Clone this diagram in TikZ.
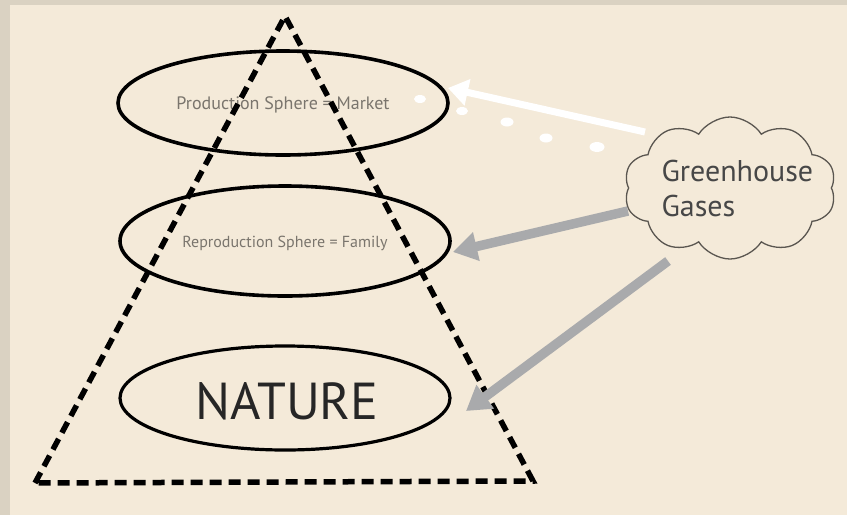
\documentclass[tikz,border=0pt]{standalone}
\usepackage{fontspec}
\setmainfont{PT Sans}
\usetikzlibrary{shapes.geometric,shapes.symbols,arrows.meta}
\definecolor{bgc}{HTML}{F4EAD9}
\definecolor{framec}{HTML}{DAD2C2}
\definecolor{arrowgray}{HTML}{A9AAAC}
\definecolor{txtgray}{HTML}{7A756D}
\definecolor{cloudline}{HTML}{5A5650}
\tikzset{
  sphere/.style={draw=black, line width=3.6pt, ellipse, inner sep=0pt},
  smalltxt/.style={text=txtgray, font=\fontsize{18}{20}\selectfont},
  pyramid/.style={draw=black, line width=5.5pt, dash pattern=on 12pt off 7pt},
  greyarrow/.style={draw=arrowgray, line width=9.5pt, -{Triangle[length=24pt,width=28pt]}},
  whitearrow/.style={draw=white, line width=7pt, -{Triangle[length=20pt,width=26pt]}},
  puff/.style={fill=white, ellipse, inner sep=0pt},
}
\begin{document}
\begin{tikzpicture}[x=1pt,y=-1pt]
\fill[framec] (0,0) rectangle (847,515);
\fill[bgc] (10,5) rectangle (847,515);
\useasboundingbox (0,0) rectangle (847,515);

% spheres
\node[sphere, minimum width=330pt, minimum height=104pt] (prod) at (283,103) {};
\node[smalltxt] (prodtxt) at (283,105) {Production Sphere = Market};
\node[sphere, minimum width=330pt, minimum height=110pt] (repro) at (285,241) {};
\node[smalltxt, font=\fontsize{16}{18}\selectfont] (reprotxt) at (285,243) {Reproduction Sphere = Family};
\node[sphere, line width=3.2pt, minimum width=330pt, minimum height=104pt] (nature) at (285,398) {};
\node[font=\fontsize{52}{56}\selectfont, text=black!85] (naturetxt) at (287,401) {NATURE};

% pyramid
\coordinate (apex) at (285,16);
\coordinate (bl) at (35,483);
\coordinate (br) at (533,481);
\draw[pyramid, line join=miter] (bl) -- (apex) -- (br) -- cycle;

% cloud
\node[cloud, draw=cloudline, line width=1.3pt, cloud puffs=10, cloud puff arc=115, aspect=1.5,
      minimum width=212pt, minimum height=142pt, inner sep=0pt] (cloud) at (730,188) {};
\node[align=left, text=black!72, font=\fontsize{30}{35}\selectfont, anchor=west] (ghg) at (658,188) {Greenhouse\\Gases};

% white arrow and dots
\coordinate (wtail) at (645,132);
\coordinate (whead) at (448,88);
\draw[whitearrow] (wtail) -- (whead);
\node[puff, minimum width=12pt, minimum height=8pt] (d1) at (420,99) {};
\node[puff, minimum width=12pt, minimum height=8pt] (d2) at (462,111) {};
\node[puff, minimum width=13pt, minimum height=9pt] (d3) at (507,122) {};
\node[puff, minimum width=13pt, minimum height=9pt] (d4) at (546,138) {};
\node[puff, minimum width=15pt, minimum height=10pt] (d5) at (597,147) {};

% grey arrows
\coordinate (g1tail) at (628,211);
\coordinate (g1head) at (453,252);
\draw[greyarrow] (g1tail) -- (g1head);
\coordinate (g2tail) at (668,261);
\coordinate (g2head) at (466,411);
\draw[greyarrow] (g2tail) -- (g2head);
\end{tikzpicture}
\end{document}
